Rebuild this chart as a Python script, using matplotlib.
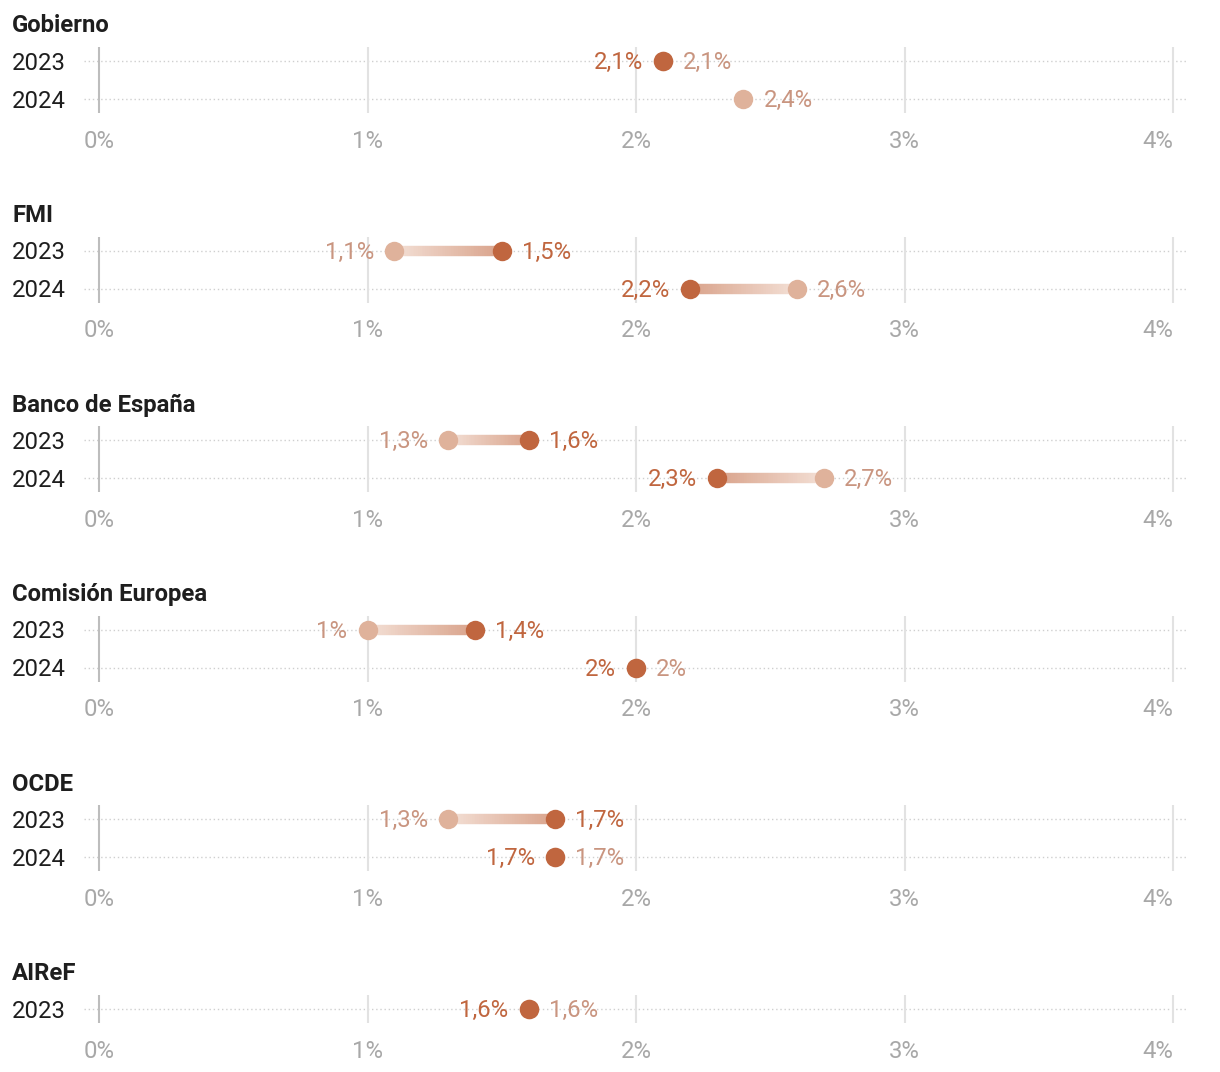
import matplotlib.pyplot as plt
import matplotlib.colors as mcolors
import numpy as np
from matplotlib.collections import LineCollection

plt.rcParams["font.family"] = ["Roboto", "DejaVu Sans"]

W, H = 1220, 1072

# forecasts: "new" = current (dark), "old" = previous (light); None = not published
institutions = ["Gobierno", "FMI", "Banco de España", "Comisión Europea", "OCDE", "AIReF"]
years = [["2023", "2024"], ["2023", "2024"], ["2023", "2024"],
         ["2023", "2024"], ["2023", "2024"], ["2023"]]
new_values = [[2.1, None], [1.5, 2.2], [1.6, 2.3], [1.4, 2.0], [1.7, 1.7], [1.6]]
old_values = [[2.1, 2.4], [1.1, 2.6], [1.3, 2.7], [1.0, 2.0], [1.3, 1.7], [1.6]]
ticks = [0, 1, 2, 3, 4]

DARK = "#c0663f"
LIGHT = "#dfb29b"
LIGHT_TXT = "#c99580"
GRAD_DARK = "#d9a38b"
GRAD_LIGHT = "#f3dfd5"

PX_PER_UNIT = 268.5
X0_PX = 99
AX_LEFT, AX_RIGHT = 84, 1186
ROW_GAP = 38
PANEL_STEP = 189.6
FIRST_ROW = 61
FS = 17.2


def fmt(v):
    s = f"{v:.1f}".replace(".", ",")
    if s.endswith(",0"):
        s = s[:-2]
    return s + "%"


fig = plt.figure(figsize=(W / 100, H / 100), dpi=100)

for i, name in enumerate(institutions):
    n = len(years[i])
    row0 = FIRST_ROW + PANEL_STEP * i
    top = row0 - 14
    bottom = row0 + ROW_GAP * (n - 1) + 14
    ax = fig.add_axes([AX_LEFT / W, 1 - bottom / H,
                       (AX_RIGHT - AX_LEFT) / W, (bottom - top) / H])
    ax.set_xlim((AX_LEFT - X0_PX) / PX_PER_UNIT, (AX_RIGHT - X0_PX) / PX_PER_UNIT)
    ax.set_ylim(n - 1 + 14 / ROW_GAP, -14 / ROW_GAP)
    for s in ax.spines.values():
        s.set_visible(False)
    ax.set_yticks([])
    ax.set_xticks(ticks)
    ax.set_xticklabels([f"{t}%" for t in ticks], fontsize=FS, color="#a8a8a8")
    ax.tick_params(axis="x", length=0, pad=12)
    ax.get_xticklabels()[-1].set_ha("right")

    for t in ticks:
        ax.axvline(t, color="#bdbdbd" if t == 0 else "#e2e2e2", lw=1.5, zorder=1)

    fig.text(12 / W, 1 - (row0 - 35) / H, name, fontsize=FS, fontweight="bold",
             color="#1e1e1e", va="center", ha="left")

    for j, yr in enumerate(years[i]):
        ax.axhline(j, color="#cfcfcf", lw=1, ls=(0, (1, 2)), zorder=0)
        fig.text(12 / W, 1 - (row0 + 2 + ROW_GAP * j) / H, yr, fontsize=FS,
                 color="#1e1e1e", va="center", ha="left")

        nv = new_values[i][j]
        ov = old_values[i][j]

        if nv is not None and ov is not None and nv != ov:
            xs = np.linspace(nv, ov, 60)
            segs = [[(xs[k], j), (xs[k + 1], j)] for k in range(len(xs) - 1)]
            c0 = np.array(mcolors.to_rgb(GRAD_DARK))
            c1 = np.array(mcolors.to_rgb(GRAD_LIGHT))
            cols = [c0 + (c1 - c0) * f for f in np.linspace(0, 1, len(segs))]
            lc = LineCollection(segs, colors=cols, linewidths=7.5, capstyle="butt", zorder=2)
            ax.add_collection(lc)

        if ov is not None:
            ax.plot(ov, j, "o", ms=14, color=LIGHT, mec="none", zorder=3)
        if nv is not None:
            ax.plot(nv, j, "o", ms=14, color=DARK, mec="none", zorder=4)

        off = 20 / PX_PER_UNIT
        ty = j + 1.5 / ROW_GAP
        if nv is not None and ov is not None:
            if nv <= ov:
                ax.text(nv - off, ty, fmt(nv), color=DARK, fontsize=FS, ha="right", va="center", zorder=5)
                ax.text(ov + off, ty, fmt(ov), color=LIGHT_TXT, fontsize=FS, ha="left", va="center", zorder=5)
            else:
                ax.text(ov - off, ty, fmt(ov), color=LIGHT_TXT, fontsize=FS, ha="right", va="center", zorder=5)
                ax.text(nv + off, ty, fmt(nv), color=DARK, fontsize=FS, ha="left", va="center", zorder=5)
        elif ov is not None:
            ax.text(ov + off, ty, fmt(ov), color=LIGHT_TXT, fontsize=FS, ha="left", va="center", zorder=5)
        elif nv is not None:
            ax.text(nv + off, ty, fmt(nv), color=DARK, fontsize=FS, ha="left", va="center", zorder=5)

fig.savefig("out.png", dpi=100, facecolor="white")
